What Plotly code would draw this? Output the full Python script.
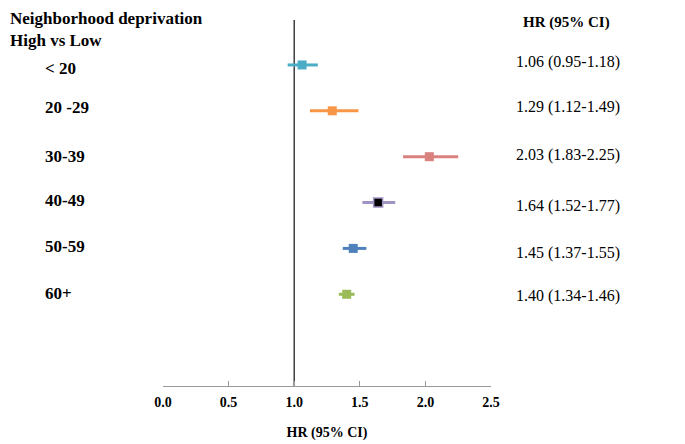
import plotly.graph_objects as go

groups = ["< 20", "20 -29", "30-39", "40-49", "50-59", "60+"]
hr = [1.06, 1.29, 2.03, 1.64, 1.45, 1.40]
lo = [0.95, 1.12, 1.83, 1.52, 1.37, 1.34]
hi = [1.18, 1.49, 2.25, 1.77, 1.55, 1.46]
line_colors = ["#4bacc6", "#f79646", "#d9817e", "#a193c2", "#4f81bd", "#9bbb59"]
marker_colors = ["#4bacc6", "#f79646", "#d9817e", "#000000", "#4f81bd", "#9bbb59"]
tick_vals = [0.0, 0.5, 1.0, 1.5, 2.0, 2.5]
tick_text = ["0.0", "0.5", "1.0", "1.5", "2.0", "2.5"]

# small vertical offsets (pixels) of the text labels relative to their rows
left_shift = [-4, 3, 0, 2, 2, 1]
right_shift = [3, 4, 2, -3, -5, -2]

FONT = "Liberation Serif"
ML, MR, MT, MB = 155, 202, 12, 66
W, H = 685, 444
PW = W - ML - MR
PH = H - MT - MB


def px_x(fx):
    return (fx - ML) / PW


def px_y(fy):
    return 1 - (fy - MT) / PH


fig = go.Figure()
for i, g in enumerate(groups):
    fig.add_trace(go.Scatter(
        x=[hr[i]], y=[i], mode="markers",
        marker=dict(symbol="square", size=9, color=marker_colors[i],
                    line=dict(color=line_colors[i], width=1.5 if i == 3 else 0)),
        error_x=dict(type="data", symmetric=False,
                     array=[hi[i] - hr[i]], arrayminus=[hr[i] - lo[i]],
                     color=line_colors[i], thickness=3, width=0),
        showlegend=False, hoverinfo="skip"))

# reference line at HR = 1
fig.add_shape(type="line", xref="x", yref="paper", x0=1, x1=1, y0=0, y1=1,
              line=dict(color="#222222", width=1.3), layer="below")

for i, g in enumerate(groups):
    fig.add_annotation(x=px_x(35), y=i, xref="paper", yref="y", text="<b>%s</b>" % g,
                       showarrow=False, xanchor="left", yanchor="middle",
                       yshift=left_shift[i],
                       font=dict(family=FONT, size=17, color="black"))
    fig.add_annotation(x=px_x(506), y=i, xref="paper", yref="y",
                       text="%.2f (%.2f-%.2f)" % (hr[i], lo[i], hi[i]),
                       showarrow=False, xanchor="left", yanchor="middle",
                       yshift=right_shift[i],
                       font=dict(family=FONT, size=16, color="black"))

fig.add_annotation(x=px_x(0), xref="paper", y=px_y(21), yref="paper",
                   text="<b>Neighborhood deprivation<br>High vs Low</b>", align="left",
                   showarrow=False, xanchor="left", yanchor="middle",
                   font=dict(family=FONT, size=17, color="black"))
fig.add_annotation(x=px_x(558), xref="paper", y=px_y(14), yref="paper",
                   text="<b>HR (95% CI)</b>", showarrow=False,
                   xanchor="center", yanchor="middle",
                   font=dict(family=FONT, size=15, color="black"))

fig.update_layout(
    width=W, height=H,
    margin=dict(l=ML, r=MR, t=MT, b=MB),
    plot_bgcolor="white", paper_bgcolor="white",
    xaxis=dict(range=[0, 2.5], tickvals=tick_vals, ticktext=tick_text,
               showgrid=False, zeroline=False, showline=True,
               linecolor="#999999", linewidth=1.2, ticks="inside",
               tickcolor="#999999", ticklen=5, ticklabelstandoff=3,
               tickfont=dict(family=FONT, size=14, color="black", weight="bold"),
               title=dict(text="<b>HR (95% CI)</b>", standoff=18,
                          font=dict(family=FONT, size=14, color="black"))),
    yaxis=dict(range=[7.0, -0.98], showgrid=False, zeroline=False,
               showline=False, showticklabels=False),
)
fig.write_html("out.html")
